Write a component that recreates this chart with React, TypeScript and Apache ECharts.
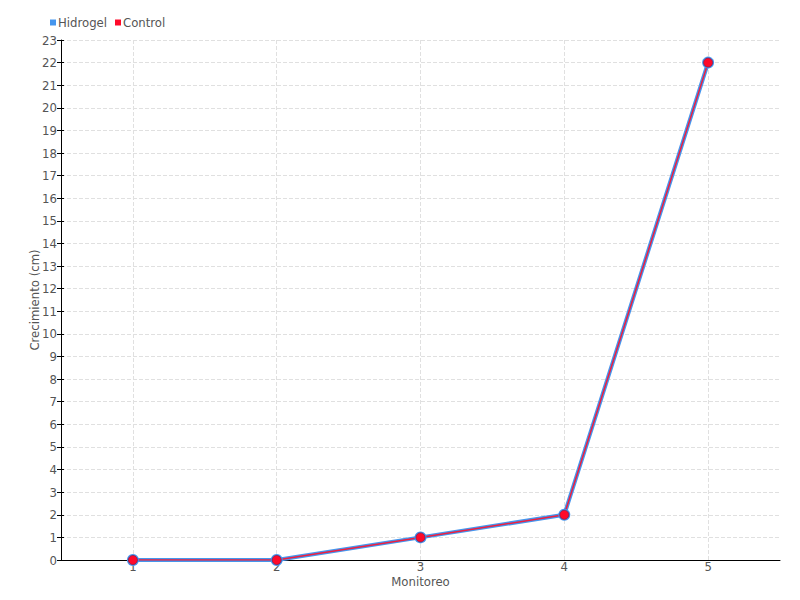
import React, { useEffect, useRef } from "react";
import * as echarts from "echarts";

const categories = ["1", "2", "3", "4", "5"];
const hidrogel = [0, 0, 1, 2, 22];
const control = [0, 0, 1, 2, 22];

const FONT = "'DejaVu Sans Condensed', 'Liberation Sans Narrow', sans-serif";
const TXT = "#555";

export default function App() {
  const ref = useRef<HTMLDivElement>(null);
  useEffect(() => {
    if (!ref.current) return;
    const chart = echarts.init(ref.current, undefined, { renderer: "svg" });
    chart.setOption({
      animation: false,
      textStyle: { fontFamily: FONT },
      legend: {
        left: 45,
        top: 11,
        itemWidth: 6,
        itemHeight: 6,
        itemGap: 8,
        icon: "rect",
        itemStyle: { borderWidth: 0 },
        textStyle: { fontFamily: FONT, fontSize: 13, color: TXT, padding: [0, 0, 0, -3] },
        data: ["Hidrogel", "Control"],
      },
      grid: { left: 61, right: 20, top: 40, bottom: 40 },
      xAxis: [
        {
          type: "category",
          data: categories,
          boundaryGap: true,
          name: "Monitoreo",
          nameLocation: "middle",
          nameGap: 15,
          nameMoveOverlap: false,
          nameTextStyle: { fontFamily: FONT, fontSize: 13, color: TXT },
          axisLine: { lineStyle: { color: "#000", width: 1 } },
          axisTick: { alignWithLabel: true, length: 5, lineStyle: { color: "#000" } },
          axisLabel: { fontFamily: FONT, fontSize: 13, color: TXT, margin: 0 },
          splitLine: { show: false },
        },
        {
          type: "value",
          min: 0.5,
          max: 5.5,
          position: "bottom",
          axisLine: { show: false },
          axisTick: { show: false },
          axisLabel: { show: false },
          splitLine: {
            show: true,
            showMinLine: false,
            showMaxLine: false,
            lineStyle: { type: "dashed", color: "#e0e0e0" },
          },
        },
      ],
      yAxis: [
        {
          type: "value",
          min: 0,
          max: 23,
          interval: 1,
          name: "Crecimiento (cm)",
          nameLocation: "middle",
          nameGap: 20,
          nameMoveOverlap: false,
          nameTextStyle: { fontFamily: FONT, fontSize: 13, color: TXT },
          axisLine: { show: true, lineStyle: { color: "#000", width: 1 } },
          axisTick: { show: true, length: 4, lineStyle: { color: "#000" } },
          axisLabel: { fontFamily: FONT, fontSize: 13, color: TXT, margin: 4 },
          splitLine: { show: true, lineStyle: { type: "dashed", color: "#e0e0e0" } },
        },
        {
          type: "value",
          min: 0,
          max: 23,
          interval: 1,
          position: "left",
          axisLine: { show: false },
          axisTick: { show: true, inside: true, length: 3, lineStyle: { color: "#000" } },
          axisLabel: { show: false },
          splitLine: { show: false },
        },
      ],
      series: [
        {
          name: "Hidrogel",
          type: "line",
          data: hidrogel,
          color: "#4596ee",
          symbol: "circle",
          symbolSize: 12,
          lineStyle: { width: 4, color: "#4596ee" },
          itemStyle: { color: "#4596ee" },
        },
        {
          name: "Control",
          type: "line",
          data: control,
          color: "#ff0a2a",
          symbol: "circle",
          symbolSize: 9,
          lineStyle: { width: 1.5, color: "#ee1f3f" },
          itemStyle: { color: "#ff0a2a", borderColor: "#8a1a4a", borderWidth: 0.8 },
        },
      ],
    });
    return () => chart.dispose();
  }, []);
  return <div ref={ref} style={{ width: 800, height: 600, position: "absolute", left: 0, top: 0 }} />;
}
